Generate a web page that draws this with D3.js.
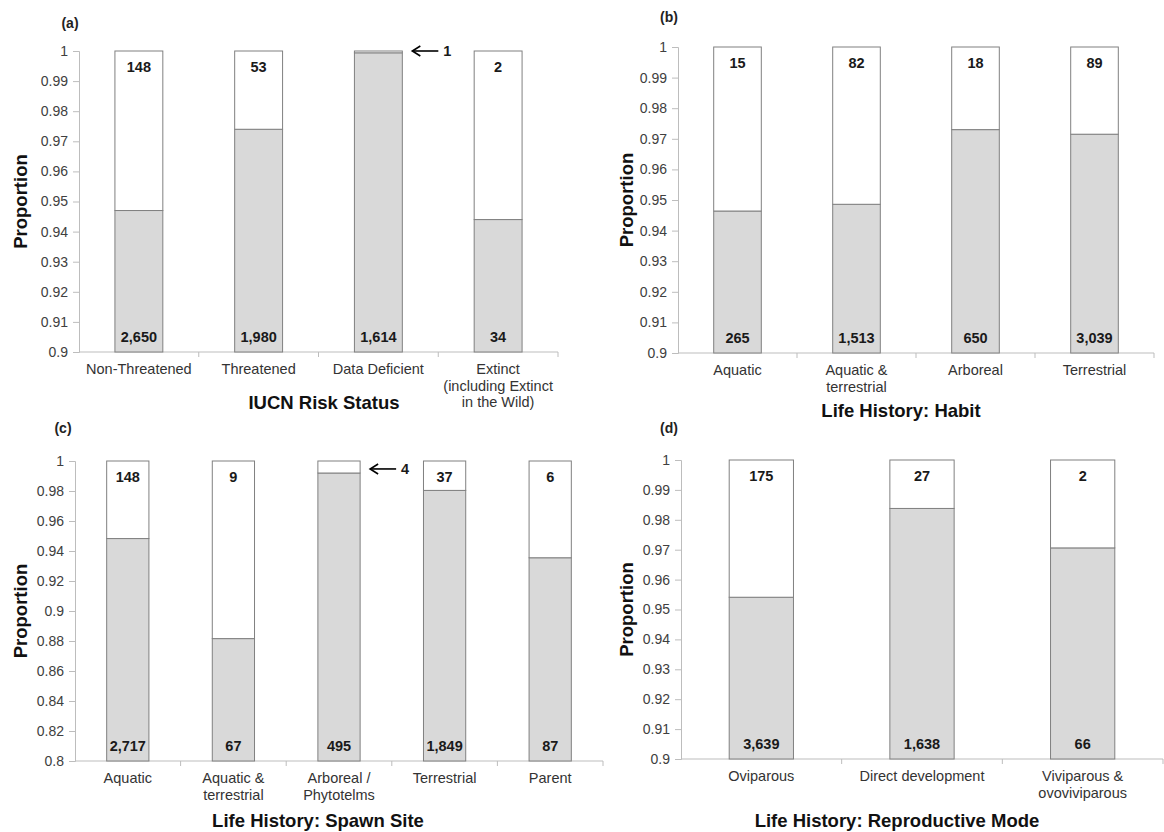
<!DOCTYPE html>
<html>
<head>
<meta charset="utf-8">
<script src="https://cdn.jsdelivr.net/npm/d3@7"></script>
<style>
  body { margin: 0; background: #fff; }
  svg { font-family: "Liberation Sans", Arial, sans-serif; }
  .tick-lbl { font-size: 14px; fill: #404040; }
  .cat-lbl { font-size: 14.5px; fill: #333; }
  .count { font-size: 14.5px; font-weight: bold; fill: #1a1a1a; }
  .title { font-size: 18.5px; font-weight: bold; fill: #111; }
  .letter { font-size: 14px; font-weight: bold; fill: #222; }
</style>
</head>
<body>
<div id="chart"></div>
<script>
// (a) IUCN risk status
const riskCats = [["Non-Threatened"], ["Threatened"], ["Data Deficient"], ["Extinct", "(including Extinct", "in the Wild)"]];
const riskGray = [2650, 1980, 1614, 34];
const riskWhite = [148, 53, 1, 2];
const riskProp = [0.947, 0.974, 0.9994, 0.944];
const riskTicks = [0.9, 0.91, 0.92, 0.93, 0.94, 0.95, 0.96, 0.97, 0.98, 0.99, 1];

// (b) habit
const habitCats = [["Aquatic"], ["Aquatic &", "terrestrial"], ["Arboreal"], ["Terrestrial"]];
const habitGray = [265, 1513, 650, 3039];
const habitWhite = [15, 82, 18, 89];
const habitProp = [0.9464, 0.9486, 0.973, 0.9715];
const habitTicks = [0.9, 0.91, 0.92, 0.93, 0.94, 0.95, 0.96, 0.97, 0.98, 0.99, 1];

// (c) spawn site
const spawnCats = [["Aquatic"], ["Aquatic &", "terrestrial"], ["Arboreal /", "Phytotelms"], ["Terrestrial"], ["Parent"]];
const spawnGray = [2717, 67, 495, 1849, 87];
const spawnWhite = [148, 9, 4, 37, 6];
const spawnProp = [0.9483, 0.8816, 0.992, 0.9804, 0.9355];
const spawnTicks = [0.8, 0.82, 0.84, 0.86, 0.88, 0.9, 0.92, 0.94, 0.96, 0.98, 1];

// (d) reproductive mode
const reproCats = [["Oviparous"], ["Direct development"], ["Viviparous &", "ovoviviparous"]];
const reproGray = [3639, 1638, 66];
const reproWhite = [175, 27, 2];
const reproProp = [0.9541, 0.9838, 0.9706];
const reproTicks = [0.9, 0.91, 0.92, 0.93, 0.94, 0.95, 0.96, 0.97, 0.98, 0.99, 1];

const panels = [
  { letter: "(a)", title: "IUCN Risk Status", cats: riskCats, gray: riskGray, white: riskWhite, prop: riskProp, ticks: riskTicks,
    x0: 79, x1: 558, yTop: 51, yBot: 352, letterPos: [70, 23], yLabX: 20, titlePos: [324, 402],
    arrowIdx: 2, arrowVal: 1 },
  { letter: "(b)", title: "Life History: Habit", cats: habitCats, gray: habitGray, white: habitWhite, prop: habitProp, ticks: habitTicks,
    x0: 678, x1: 1154, yTop: 47, yBot: 353, letterPos: [669, 17], yLabX: 626, titlePos: [901, 410],
    arrowIdx: -1 },
  { letter: "(c)", title: "Life History: Spawn Site", cats: spawnCats, gray: spawnGray, white: spawnWhite, prop: spawnProp, ticks: spawnTicks,
    x0: 75, x1: 603, yTop: 461, yBot: 761, letterPos: [63, 428], yLabX: 20, titlePos: [318, 820],
    arrowIdx: 2, arrowVal: 0.9947 },
  { letter: "(d)", title: "Life History: Reproductive Mode", cats: reproCats, gray: reproGray, white: reproWhite, prop: reproProp, ticks: reproTicks,
    x0: 681, x1: 1163, yTop: 460, yBot: 759, letterPos: [669, 428], yLabX: 626, titlePos: [897, 820],
    arrowIdx: -1 }
];

const svg = d3.select("#chart").append("svg")
  .attr("width", 1164)
  .attr("height", 832);

panels.forEach(renderPanel);

function renderPanel(p) {
  const g = svg.append("g");
  const n = p.cats.length;
  const x = d3.scaleBand()
    .domain(d3.range(n))
    .range([p.x0, p.x1])
    .paddingInner(0.6)
    .paddingOuter(0.3);
  const y = d3.scaleLinear()
    .domain([p.ticks[0], 1])
    .range([p.yBot, p.yTop]);
  const step = (p.x1 - p.x0) / n;

  // y axis
  const yAxis = g.append("g")
    .attr("transform", `translate(${p.x0},0)`)
    .call(d3.axisLeft(y).tickValues(p.ticks).tickSize(6).tickPadding(5)
      .tickFormat(d => String(+d.toFixed(2))));
  yAxis.select(".domain").attr("stroke", "#bdbdbd");
  yAxis.selectAll(".tick line").attr("stroke", "#bdbdbd");
  yAxis.selectAll(".tick text").attr("class", "tick-lbl").attr("font-size", null).attr("font-family", null);

  // x axis line with boundary ticks
  g.append("line")
    .attr("x1", p.x0).attr("x2", p.x1)
    .attr("y1", p.yBot).attr("y2", p.yBot)
    .attr("stroke", "#bdbdbd");
  g.selectAll(".xtick")
    .data(d3.range(1, n + 1))
    .enter().append("line")
    .attr("x1", i => p.x0 + i * step).attr("x2", i => p.x0 + i * step)
    .attr("y1", p.yBot).attr("y2", p.yBot + 5)
    .attr("stroke", "#bdbdbd");

  const idx = d3.range(n);
  // gray part
  g.selectAll(".gbar").data(idx).enter().append("rect")
    .attr("x", i => x(i)).attr("width", x.bandwidth())
    .attr("y", i => y(p.prop[i])).attr("height", i => y(p.ticks[0]) - y(p.prop[i]))
    .attr("fill", "#d9d9d9").attr("stroke", "#808080").attr("stroke-width", 1);
  // white part
  g.selectAll(".wbar").data(idx).enter().append("rect")
    .attr("x", i => x(i)).attr("width", x.bandwidth())
    .attr("y", y(1)).attr("height", i => y(p.prop[i]) - y(1))
    .attr("fill", "#fff").attr("stroke", "#808080").attr("stroke-width", 1);

  const cx = i => x(i) + x.bandwidth() / 2;
  // counts
  g.selectAll(".wcount").data(idx.filter(i => i !== p.arrowIdx)).enter().append("text")
    .attr("class", "count")
    .attr("x", cx).attr("y", y(1) + 16)
    .attr("text-anchor", "middle").attr("dominant-baseline", "central")
    .text(i => d3.format(",")(p.white[i]));
  g.selectAll(".gcount").data(idx).enter().append("text")
    .attr("class", "count")
    .attr("x", cx).attr("y", y(p.ticks[0]) - 15)
    .attr("text-anchor", "middle").attr("dominant-baseline", "central")
    .text(i => d3.format(",")(p.gray[i]));

  // arrow annotation pointing back at the thin white segment
  if (p.arrowIdx >= 0) {
    const ax = x(p.arrowIdx) + x.bandwidth();
    const ay = y(p.arrowVal);
    const tip = ax + 10;
    g.append("line")
      .attr("x1", ax + 36).attr("x2", tip + 1)
      .attr("y1", ay).attr("y2", ay)
      .attr("stroke", "#000").attr("stroke-width", 1.6);
    g.append("path")
      .attr("d", `M${tip + 8},${ay - 5} L${tip},${ay} L${tip + 8},${ay + 5}`)
      .attr("fill", "none").attr("stroke", "#000").attr("stroke-width", 1.6);
    g.append("text")
      .attr("class", "count")
      .attr("x", ax + 45).attr("y", ay)
      .attr("text-anchor", "middle").attr("dominant-baseline", "central")
      .text(d3.format(",")(p.white[p.arrowIdx]));
  }

  // category labels
  g.selectAll(".cat").data(idx).enter().append("text")
    .attr("class", "cat-lbl")
    .attr("text-anchor", "middle")
    .attr("x", cx)
    .attr("y", p.yBot + 22)
    .each(function(i) {
      d3.select(this).selectAll("tspan").data(p.cats[i]).enter().append("tspan")
        .attr("x", cx(i))
        .attr("dy", (d, k) => k === 0 ? 0 : 16.7)
        .text(d => d);
    });

  // titles
  g.append("text").attr("class", "letter")
    .attr("x", p.letterPos[0]).attr("y", p.letterPos[1])
    .attr("text-anchor", "middle").attr("dominant-baseline", "central")
    .text(p.letter);
  g.append("text").attr("class", "title")
    .attr("transform", `translate(${p.yLabX},${(p.yTop + p.yBot) / 2}) rotate(-90)`)
    .attr("text-anchor", "middle").attr("dominant-baseline", "central")
    .text("Proportion");
  g.append("text").attr("class", "title")
    .attr("x", p.titlePos[0]).attr("y", p.titlePos[1])
    .attr("text-anchor", "middle").attr("dominant-baseline", "central")
    .text(p.title);
}
</script>
</body>
</html>
